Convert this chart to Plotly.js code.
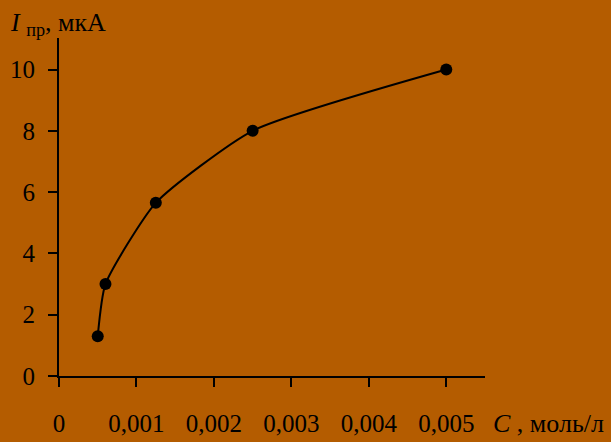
<!DOCTYPE html>
<html>
<head>
<meta charset="utf-8">
<script src="https://cdn.plot.ly/plotly-3.0.1.min.js"></script>
<style>html,body{margin:0;padding:0;background:#b45c00;}</style>
</head>
<body>
<div id="chart" style="width:611px;height:442px;"></div>
<script>
const concentration = [0.0005, 0.0006, 0.00125, 0.0025, 0.005];
const current = [1.3, 3.0, 5.65, 8.0, 10.0];
const xTickVals = [0, 0.001, 0.002, 0.003, 0.004, 0.005];
const xTickText = ['0', '0,001', '0,002', '0,003', '0,004', '0,005'];
const yTickVals = [0, 2, 4, 6, 8, 10];
const yTickText = ['0', '2', '4', '6', '8', '10'];

const bg = '#b45c00';
const tickFont = {family: 'Liberation Serif, Times New Roman, serif', size: 25, color: '#000'};
const titleFont = {family: 'Liberation Serif, Times New Roman, serif', size: 26, color: '#000'};

Plotly.newPlot('chart', [{
  x: concentration,
  y: current,
  type: 'scatter',
  mode: 'lines+markers',
  line: {color: '#000', width: 2, shape: 'spline', smoothing: 0.55},
  marker: {color: '#000', size: 12},
  hoverinfo: 'none'
}], {
  width: 611, height: 442,
  paper_bgcolor: bg, plot_bgcolor: bg,
  font: tickFont,
  showlegend: false,
  margin: {l: 59, r: 126, t: 38, b: 66},
  xaxis: {
    range: [0, 0.0055],
    tickvals: xTickVals, ticktext: xTickText,
    showgrid: false, zeroline: false,
    showline: true, linecolor: '#000', linewidth: 2,
    ticks: 'outside', ticklen: 9, tickwidth: 2, tickcolor: '#000',
    ticklabelstandoff: 15,
    tickfont: tickFont
  },
  yaxis: {
    range: [0, 11.03],
    tickvals: yTickVals, ticktext: yTickText,
    showgrid: false, zeroline: false,
    showline: true, linecolor: '#000', linewidth: 2,
    ticks: 'outside', ticklen: 9, tickwidth: 2, tickcolor: '#000',
    ticklabelstandoff: 8,
    tickfont: tickFont
  },
  annotations: [
    {xref: 'paper', yref: 'paper', x: -0.12, y: 1.0, yshift: 14, xanchor: 'left', yanchor: 'middle',
     text: '<i>I</i> <sub>пр</sub>, мкА', showarrow: false, font: titleFont},
    {xref: 'paper', yref: 'paper', x: 1.0, y: 0, xshift: 6, yshift: -47, xanchor: 'left', yanchor: 'middle',
     text: '<i>C</i> , моль/л', showarrow: false, font: titleFont}
  ]
}, {staticPlot: true});
</script>
</body>
</html>
